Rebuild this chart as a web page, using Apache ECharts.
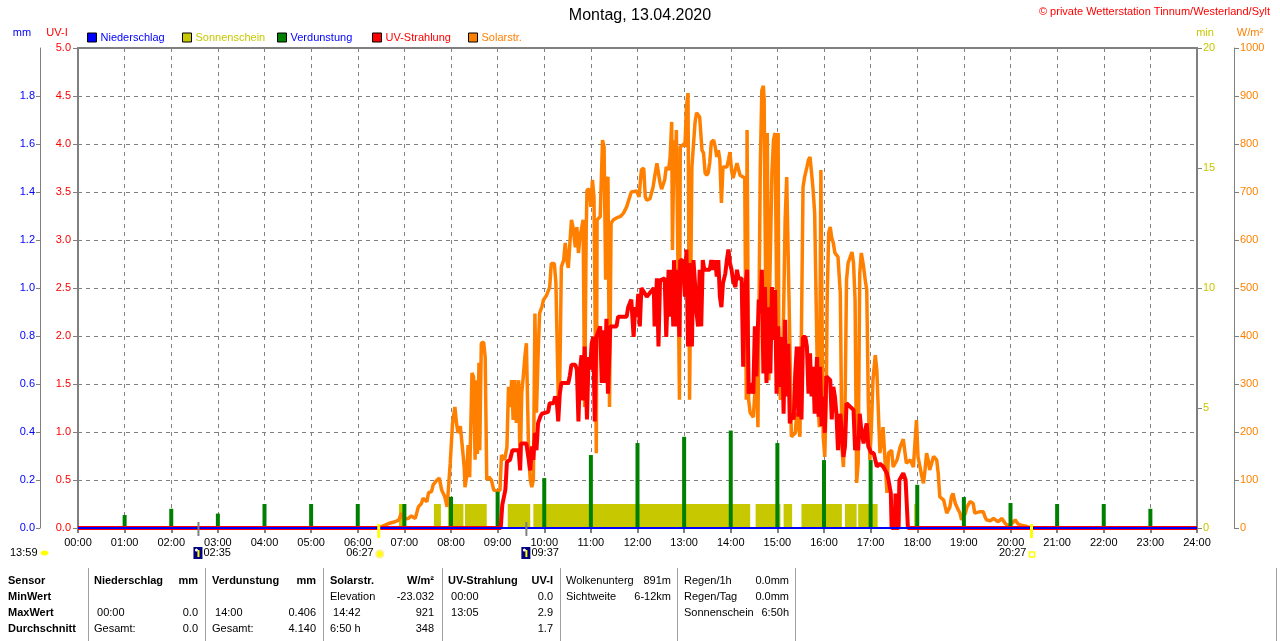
<!DOCTYPE html>
<html><head><meta charset="utf-8">
<script src="https://cdn.jsdelivr.net/npm/echarts@6/dist/echarts.min.js"></script>
<style>html,body{margin:0;padding:0;background:#fff}#c{width:1280px;height:641px}</style>
</head><body><div id="c"></div>
<script>
// ---------------- DATA ----------------
const titleText = 'Montag, 13.04.2020';
const copyrightText = '\u00A9 private Wetterstation Tinnum/Westerland/Sylt';
const legendNames = ['Niederschlag','Sonnenschein','Verdunstung','UV-Strahlung','Solarstr.'];

// Verdunstung (mm) at full hours
const verdHours = [1,2,3,4,5,6,7,8,9,10,11,12,13,14,15,16,17,18,19,20,21,22,23];
const verdMm    = [0.054,0.08,0.06,0.10,0.10,0.10,0.10,0.13,0.151,0.208,0.304,0.354,0.38,0.406,0.354,0.283,0.283,0.18,0.129,0.104,0.10,0.10,0.08];

// Sonnenschein intervals [start minute, end minute], value 1 min per minute
const sunshineIntervals = [[413,422],[458,467],[476,496],[498,526],[553,582],[586,865],[872,904],[908,919],[931,983],[987,1002],[1004,1029],[1076,1078]];

// Solarstrahlung [minute, W/m2]
const solarData = [[0,0],[386,0],[388,1],[395,6],[401,10],[408,13],[413,17],[416,31],[419,19],[425,20],[429,25],[434,20],[438,44],[442,51],[444,62],[449,55],[451,73],[455,76],[457,90],[462,100],[465,104],[468,79],[472,65],[475,44],[479,135],[482,219],[485,252],[487,219],[489,198],[492,212],[495,162],[497,127],[498,85],[500,106],[502,173],[504,106],[507,323],[509,315],[511,142],[512,308],[514,154],[516,344],[517,162],[519,385],[522,387],[524,356],[526,100],[529,106],[532,100],[535,79],[540,77],[543,79],[545,152],[549,142],[552,169],[554,294],[556,252],[558,308],[560,225],[562,308],[564,219],[567,308],[569,121],[571,281],[573,315],[575,356],[577,385],[580,148],[582,100],[584,85],[586,100],[588,447],[590,240],[592,356],[594,447],[597,461],[599,475],[603,485],[607,502],[609,551],[613,551],[615,510],[618,273],[620,308],[622,544],[625,558],[627,594],[629,558],[631,542],[633,594],[635,642],[637,627],[640,585],[642,627],[644,573],[646,606],[650,642],[652,252],[654,621],[655,704],[658,706],[660,669],[662,725],[664,690],[667,156],[668,642],[672,649],[675,808],[677,794],[679,517],[680,725],[682,731],[684,252],[686,635],[689,642],[693,646],[698,649],[702,656],[706,669],[712,700],[719,702],[722,690],[725,746],[728,750],[730,690],[732,683],[736,686],[740,710],[742,731],[745,760],[747,762],[749,719],[751,706],[755,725],[757,752],[760,746],[762,773],[764,846],[765,579],[767,808],[769,773],[770,829],[772,558],[774,267],[775,794],[780,800],[781,794],[783,877],[785,906],[787,267],[788,267],[790,752],[792,752],[794,844],[796,865],[800,856],[803,787],[805,781],[807,740],[809,735],[811,740],[813,762],[815,804],[818,808],[820,794],[822,773],[824,787],[826,767],[828,677],[830,752],[835,752],[837,767],[839,783],[841,746],[843,729],[848,760],[852,735],[858,729],[860,267],[861,829],[863,267],[865,240],[869,231],[873,329],[875,210],[878,752],[880,912],[882,921],[883,892],[884,669],[886,308],[887,823],[889,308],[890,489],[893,740],[895,808],[897,823],[899,489],[901,823],[902,308],[904,267],[906,323],[908,448],[910,642],[912,731],[914,731],[916,392],[918,190],[923,198],[925,240],[929,190],[931,413],[933,710],[935,731],[938,752],[940,767],[942,773],[944,740],[946,704],[948,656],[951,365],[953,240],[954,210],[956,746],[957,517],[959,190],[961,148],[963,281],[964,469],[966,615],[968,627],[970,604],[972,594],[974,573],[978,565],[981,489],[983,169],[985,127],[987,240],[989,517],[991,552],[996,575],[998,552],[1000,475],[1002,94],[1004,135],[1006,531],[1008,573],[1011,544],[1013,517],[1015,496],[1017,267],[1019,142],[1021,210],[1023,308],[1026,360],[1028,329],[1030,240],[1032,156],[1036,210],[1041,73],[1043,156],[1047,162],[1049,127],[1054,142],[1058,169],[1062,185],[1066,135],[1071,142],[1075,127],[1079,225],[1081,148],[1086,107],[1088,93],[1090,121],[1092,156],[1094,142],[1096,121],[1101,149],[1105,142],[1107,114],[1109,65],[1114,58],[1116,44],[1118,31],[1122,44],[1124,65],[1126,72],[1129,51],[1133,37],[1135,31],[1137,17],[1142,31],[1144,44],[1148,55],[1152,51],[1154,31],[1161,34],[1163,37],[1165,34],[1167,24],[1169,17],[1174,15],[1178,20],[1180,24],[1184,13],[1189,20],[1193,10],[1197,4],[1202,10],[1206,17],[1210,8],[1214,6],[1221,3],[1227,0],[1440,0]];

// UV-Strahlung [minute, UV-I]
const uvData = [[0,0],[544,0],[546,0.24],[550,0.40],[552,0.69],[556,0.71],[559,0.81],[567,0.81],[569,0.60],[570,0.88],[577,0.88],[582,0.60],[584,0.85],[586,0.71],[588,0.99],[590,0.81],[592,1.09],[595,1.16],[597,1.19],[605,1.21],[607,1.30],[612,1.30],[614,1.37],[616,1.33],[618,1.11],[620,1.40],[622,1.51],[631,1.51],[633,1.59],[635,1.70],[640,1.70],[642,1.65],[644,1.11],[646,1.65],[648,1.80],[650,1.33],[652,1.89],[655,1.13],[657,1.78],[659,1.65],[661,1.92],[663,1.99],[665,1.11],[667,1.99],[672,2.10],[674,1.51],[676,2.06],[678,1.51],[680,2.18],[682,1.40],[685,2.10],[693,2.10],[695,2.20],[706,2.20],[708,2.30],[712,2.38],[715,1.99],[717,2.30],[719,2.20],[721,2.44],[723,2.10],[725,2.50],[732,2.41],[741,2.50],[742,2.10],[745,2.60],[747,1.89],[749,2.58],[755,2.60],[757,1.99],[760,2.69],[762,2.20],[764,2.69],[766,2.10],[767,2.79],[769,2.10],[771,2.69],[774,1.99],[775,2.79],[778,2.79],[781,2.41],[783,2.90],[785,1.89],[787,2.76],[790,1.89],[792,2.79],[794,2.55],[796,2.24],[798,2.10],[800,2.69],[802,2.10],[804,2.79],[806,2.69],[813,2.69],[815,2.79],[818,2.69],[820,2.79],[822,2.62],[824,2.79],[826,2.41],[828,2.30],[830,2.55],[833,2.65],[835,2.79],[837,2.90],[839,2.76],[841,2.69],[843,2.58],[846,2.51],[848,2.69],[850,2.60],[854,2.60],[856,1.68],[858,2.44],[861,2.69],[863,1.40],[867,1.51],[869,1.40],[871,2.10],[873,1.58],[876,2.38],[878,2.24],[880,2.69],[882,1.61],[884,2.51],[886,1.51],[888,2.30],[891,1.61],[893,2.51],[895,1.96],[897,2.48],[899,1.40],[901,2.10],[903,1.47],[906,1.99],[908,1.19],[910,2.17],[912,1.37],[914,1.92],[916,1.09],[918,1.19],[921,1.13],[923,1.61],[925,1.89],[927,1.16],[929,1.89],[931,1.13],[933,1.99],[936,1.99],[938,1.89],[940,1.40],[942,1.82],[944,1.37],[946,1.68],[948,1.19],[951,1.78],[953,1.16],[955,1.68],[957,1.06],[959,1.37],[961,0.99],[963,1.58],[968,1.54],[970,1.13],[972,1.47],[974,1.37],[976,1.19],[978,0.81],[981,1.19],[983,0.99],[985,0.74],[987,0.85],[989,1.30],[998,1.23],[1000,0.81],[1002,0.95],[1004,0.81],[1006,1.19],[1008,1.02],[1011,0.88],[1013,1.02],[1015,1.09],[1017,0.85],[1021,0.78],[1024,0.78],[1028,0.64],[1032,0.67],[1036,0.64],[1041,0.57],[1043,0.50],[1045,0.50],[1046,0.36],[1047,0],[1051,0],[1052,0.36],[1053,0],[1056,0],[1057,0.50],[1062,0.57],[1065,0.50],[1067,0.50],[1068,0],[1440,0]];

// Niederschlag (mm)
const rainData = [[0,0],[1440,0]];

// Astro events
const dayLengthText = '13:59';
const sunEvents  = [{label:'06:27', minute:387, kind:'rise'}, {label:'20:27', minute:1227, kind:'set'}];
const moonEvents = [{label:'02:35', minute:155}, {label:'09:37', minute:577}];

// Table
const tableCol0   = ['Sensor','MinWert','MaxWert','Durchschnitt'];
const niederLeft  = ['Niederschlag','',' 00:00','Gesamt:'];
const niederRight = ['mm','','0.0','0.0'];
const verdLeft    = ['Verdunstung','',' 14:00','Gesamt:'];
const verdRight   = ['mm','','0.406','4.140'];
const solarLeft   = ['Solarstr.','Elevation',' 14:42','6:50 h'];
const solarRight  = ['W/m\u00B2','-23.032','921','348'];
const uvLeft      = ['UV-Strahlung',' 00:00',' 13:05',''];
const uvRight     = ['UV-I','0.0','2.9','1.7'];
const extraLeft   = ['Wolkenunterg','Sichtweite','',''];
const extraRight  = ['891m','6-12km','',''];
const rainLeft    = ['Regen/1h','Regen/Tag','Sonnenschein',''];
const rainRight   = ['0.0mm','0.0mm','6:50h',''];

// ---------------- CHART ----------------
const FONT = '"Liberation Sans", Arial, sans-serif';
const C = {rain:'#0000FF', sun:'#C8C800', verd:'#008000', uv:'#FF0000', solar:'#FF8000', grid:'#808080'};
const legendColors = [C.rain, C.sun, C.verd, C.uv, C.solar];
const legendTextColors = [C.rain, C.sun, C.rain, C.uv, C.solar];
const legendLeft = [87, 182, 277, 372, 468];
const pad2 = n => String(n).padStart(2,'0');

const chart = echarts.init(document.getElementById('c'), null, {renderer:'canvas'});

const option = {
  animation:false,
  backgroundColor:'#ffffff',
  textStyle:{fontFamily:FONT},
  title:[
    {text:titleText, left:'center', top:8, padding:0, textStyle:{fontSize:16, fontWeight:'normal', color:'#000', fontFamily:FONT}},
    {text:copyrightText, right:10, top:6, padding:0, textStyle:{fontSize:11, fontWeight:'normal', color:'#FF0000', fontFamily:FONT}}
  ],
  legend: legendNames.map((n,i)=>({
    left:legendLeft[i], top:32, padding:0, itemWidth:9, itemHeight:9, itemGap:0, selectedMode:false,
    icon:'rect',
    textStyle:{fontSize:11, color:legendTextColors[i], fontFamily:FONT, padding:[0,0,0,-1]},
    data:[{name:n, icon:'rect', itemStyle:{color:legendColors[i], borderColor:'#000', borderWidth:1}, textStyle:{color:legendTextColors[i]}}]
  })),
  grid:{left:78, right:83, top:48, bottom:113, show:true, borderColor:C.grid, borderWidth:2, backgroundColor:'transparent', outerBoundsMode:'none', containLabel:false},
  xAxis:{
    type:'value', min:0, max:1440, interval:60,
    axisLine:{show:false},
    axisTick:{show:true, length:5, lineStyle:{color:C.grid, width:2}},
    axisLabel:{margin:9, color:'#000', fontSize:11, fontFamily:FONT, formatter:v=>pad2(Math.round(v/60))+':00', showMinLabel:true, showMaxLabel:true},
    splitLine:{show:true, lineStyle:{color:C.grid, width:1, type:[4,4]}}
  },
  yAxis:[
    {type:'value', min:0, max:5, interval:0.5, position:'left', offset:0,
     axisLine:{show:true, lineStyle:{color:C.grid, width:2}},
     axisTick:{show:true, length:5, lineStyle:{color:C.grid}},
     axisLabel:{margin:7, color:C.uv, fontSize:11, fontFamily:FONT, formatter:v=>v.toFixed(1)},
     splitLine:{show:true, lineStyle:{color:C.grid, width:1, type:[4,4]}}},
    {type:'value', min:0, max:2, interval:0.2, position:'left', offset:38,
     axisLine:{show:true, lineStyle:{color:C.grid, width:1}},
     axisTick:{show:true, length:4, lineStyle:{color:C.grid}},
     axisLabel:{margin:5, color:C.rain, fontSize:11, fontFamily:FONT, showMaxLabel:false, formatter:v=>v.toFixed(1)},
     splitLine:{show:false}},
    {type:'value', min:0, max:20, interval:5, position:'right', offset:0,
     axisLine:{show:true, lineStyle:{color:C.grid, width:2}},
     axisTick:{show:true, length:5, lineStyle:{color:C.grid}},
     axisLabel:{margin:6, color:C.sun, fontSize:11, fontFamily:FONT, formatter:v=>String(v)},
     splitLine:{show:false}},
    {type:'value', min:0, max:1000, interval:100, position:'right', offset:37,
     axisLine:{show:true, lineStyle:{color:C.grid, width:1}},
     axisTick:{show:true, length:5, lineStyle:{color:C.grid}},
     axisLabel:{margin:6, color:C.solar, fontSize:11, fontFamily:FONT, formatter:v=>String(v)},
     splitLine:{show:false}}
  ],
  series:[
    {name:'Sonnenschein', type:'custom', yAxisIndex:2, z:1,
     itemStyle:{color:C.sun},
     encode:{x:[0,1], y:2},
     data: sunshineIntervals.map(iv=>[iv[0], iv[1], 1]),
     renderItem:(params, api)=>{
       const p0 = api.coord([api.value(0), api.value(2)]);
       const p1 = api.coord([api.value(1), 0]);
       return {type:'rect', shape:{x:p0[0], y:p0[1], width:p1[0]-p0[0], height:p1[1]-p0[1]}, style:{fill:C.sun}};
     }},
    {name:'Solarstr.', type:'line', yAxisIndex:3, z:3, showSymbol:false, symbol:'none',
     lineStyle:{color:C.solar, width:3.5}, itemStyle:{color:C.solar}, data:solarData},
    {name:'Verdunstung', type:'bar', yAxisIndex:1, z:4, barWidth:4,
     itemStyle:{color:C.verd}, data: verdHours.map((h,i)=>[h*60, verdMm[i]])},
    {name:'UV-Strahlung', type:'line', yAxisIndex:0, z:5, showSymbol:false, symbol:'none',
     lineStyle:{color:C.uv, width:4}, itemStyle:{color:C.uv}, data:uvData},
    {name:'Niederschlag', type:'line', yAxisIndex:1, z:6, showSymbol:false, symbol:'none',
     lineStyle:{color:C.rain, width:2}, itemStyle:{color:C.rain}, data:rainData}
  ]
};
chart.setOption(option);

// ---------------- GRAPHICS (texts / markers) ----------------
const g = [];
const txt = (x,y,t,color,opts={}) => g.push({type:'text', x, y, z:100, silent:true,
  style:{text:t, fill:color||'#000', font:(opts.bold?'bold ':'')+(opts.size||11)+'px '+FONT, align:opts.align||'left', verticalAlign:'middle'}});

// axis titles
txt(22, 33, 'mm', C.rain, {align:'center'});
txt(57, 33, 'UV-I', C.uv, {align:'center'});
txt(1205, 33, 'min', C.sun, {align:'center'});
txt(1250, 33, 'W/m\u00B2', C.solar, {align:'center'});

const y0 = chart.convertToPixel({yAxisIndex:0}, 0);
const px = m => chart.convertToPixel({xAxisIndex:0}, m);
const rowY2 = y0 + 25;

// moon events
moonEvents.forEach(ev=>{
  const x = px(ev.minute);
  g.push({type:'rect', z:50, silent:true, shape:{x:x-1, y:y0-6, width:2, height:14}, style:{fill:C.grid}});
  g.push({type:'rect', z:50, silent:true, shape:{x:x-5, y:rowY2-6, width:9, height:12}, style:{fill:'#000080'}});
  g.push({type:'rect', z:51, silent:true, shape:{x:x-1, y:rowY2-3, width:2, height:7}, style:{fill:'#FFFF00'}});
  g.push({type:'circle', z:51, silent:true, shape:{cx:x-2, cy:rowY2-3, r:1.5}, style:{fill:'#FFFFFF'}});
  txt(x+5, rowY2, ev.label, '#000');
});
// sun events
sunEvents.forEach(ev=>{
  const x = px(ev.minute);
  g.push({type:'rect', z:50, silent:true, shape:{x:x-1.5, y:y0-4, width:3, height:14}, style:{fill:'#FFFF00'}});
  if (ev.kind==='rise') {
    g.push({type:'circle', z:50, silent:true, shape:{cx:x+1, cy:rowY2+1, r:3.5}, style:{fill:'#FFFF00', stroke:'#FFF080', lineWidth:2}});
  } else {
    g.push({type:'rect', z:50, silent:true, shape:{x:x-2, y:rowY2-1, width:5, height:5}, style:{fill:'none', stroke:'#FFFF00', lineWidth:1.5}});
  }
  txt(x-5, rowY2, ev.label, '#000', {align:'right'});
});
// day length
txt(10, rowY2, dayLengthText, '#000');
g.push({type:'ellipse', z:50, silent:true, shape:{cx:44.5, cy:rowY2, rx:4, ry:2.5}, style:{fill:'#FFFF00'}});

// table
const rowsY = [581, 597, 613, 629];
const seps = [88, 205, 323, 442, 560, 677, 795, 1276];
seps.forEach(x=>g.push({type:'line', z:50, silent:true, shape:{x1:x+0.5, y1:568, x2:x+0.5, y2:641}, style:{stroke:'#A0A0A0', lineWidth:1}}));
const cols = [
  {arr:niederLeft, x:94, align:'left', hdrBold:true},
  {arr:niederRight, x:198, align:'right', hdrBold:true},
  {arr:verdLeft, x:212, align:'left', hdrBold:true},
  {arr:verdRight, x:316, align:'right', hdrBold:true},
  {arr:solarLeft, x:330, align:'left', hdrBold:true},
  {arr:solarRight, x:434, align:'right', hdrBold:true},
  {arr:uvLeft, x:448, align:'left', hdrBold:true},
  {arr:uvRight, x:553, align:'right', hdrBold:true},
  {arr:extraLeft, x:566, align:'left', hdrBold:false},
  {arr:extraRight, x:671, align:'right', hdrBold:false},
  {arr:rainLeft, x:684, align:'left', hdrBold:false},
  {arr:rainRight, x:789, align:'right', hdrBold:false}
];
tableCol0.forEach((t,r)=>txt(8, rowsY[r], t, '#000', {bold:true}));
cols.forEach(c=>c.arr.forEach((t,r)=>{ if(t) txt(c.x, rowsY[r], t, '#000', {align:c.align, bold:(r===0 && c.hdrBold)}); }));

chart.setOption({graphic:g});
</script>
</body></html>
